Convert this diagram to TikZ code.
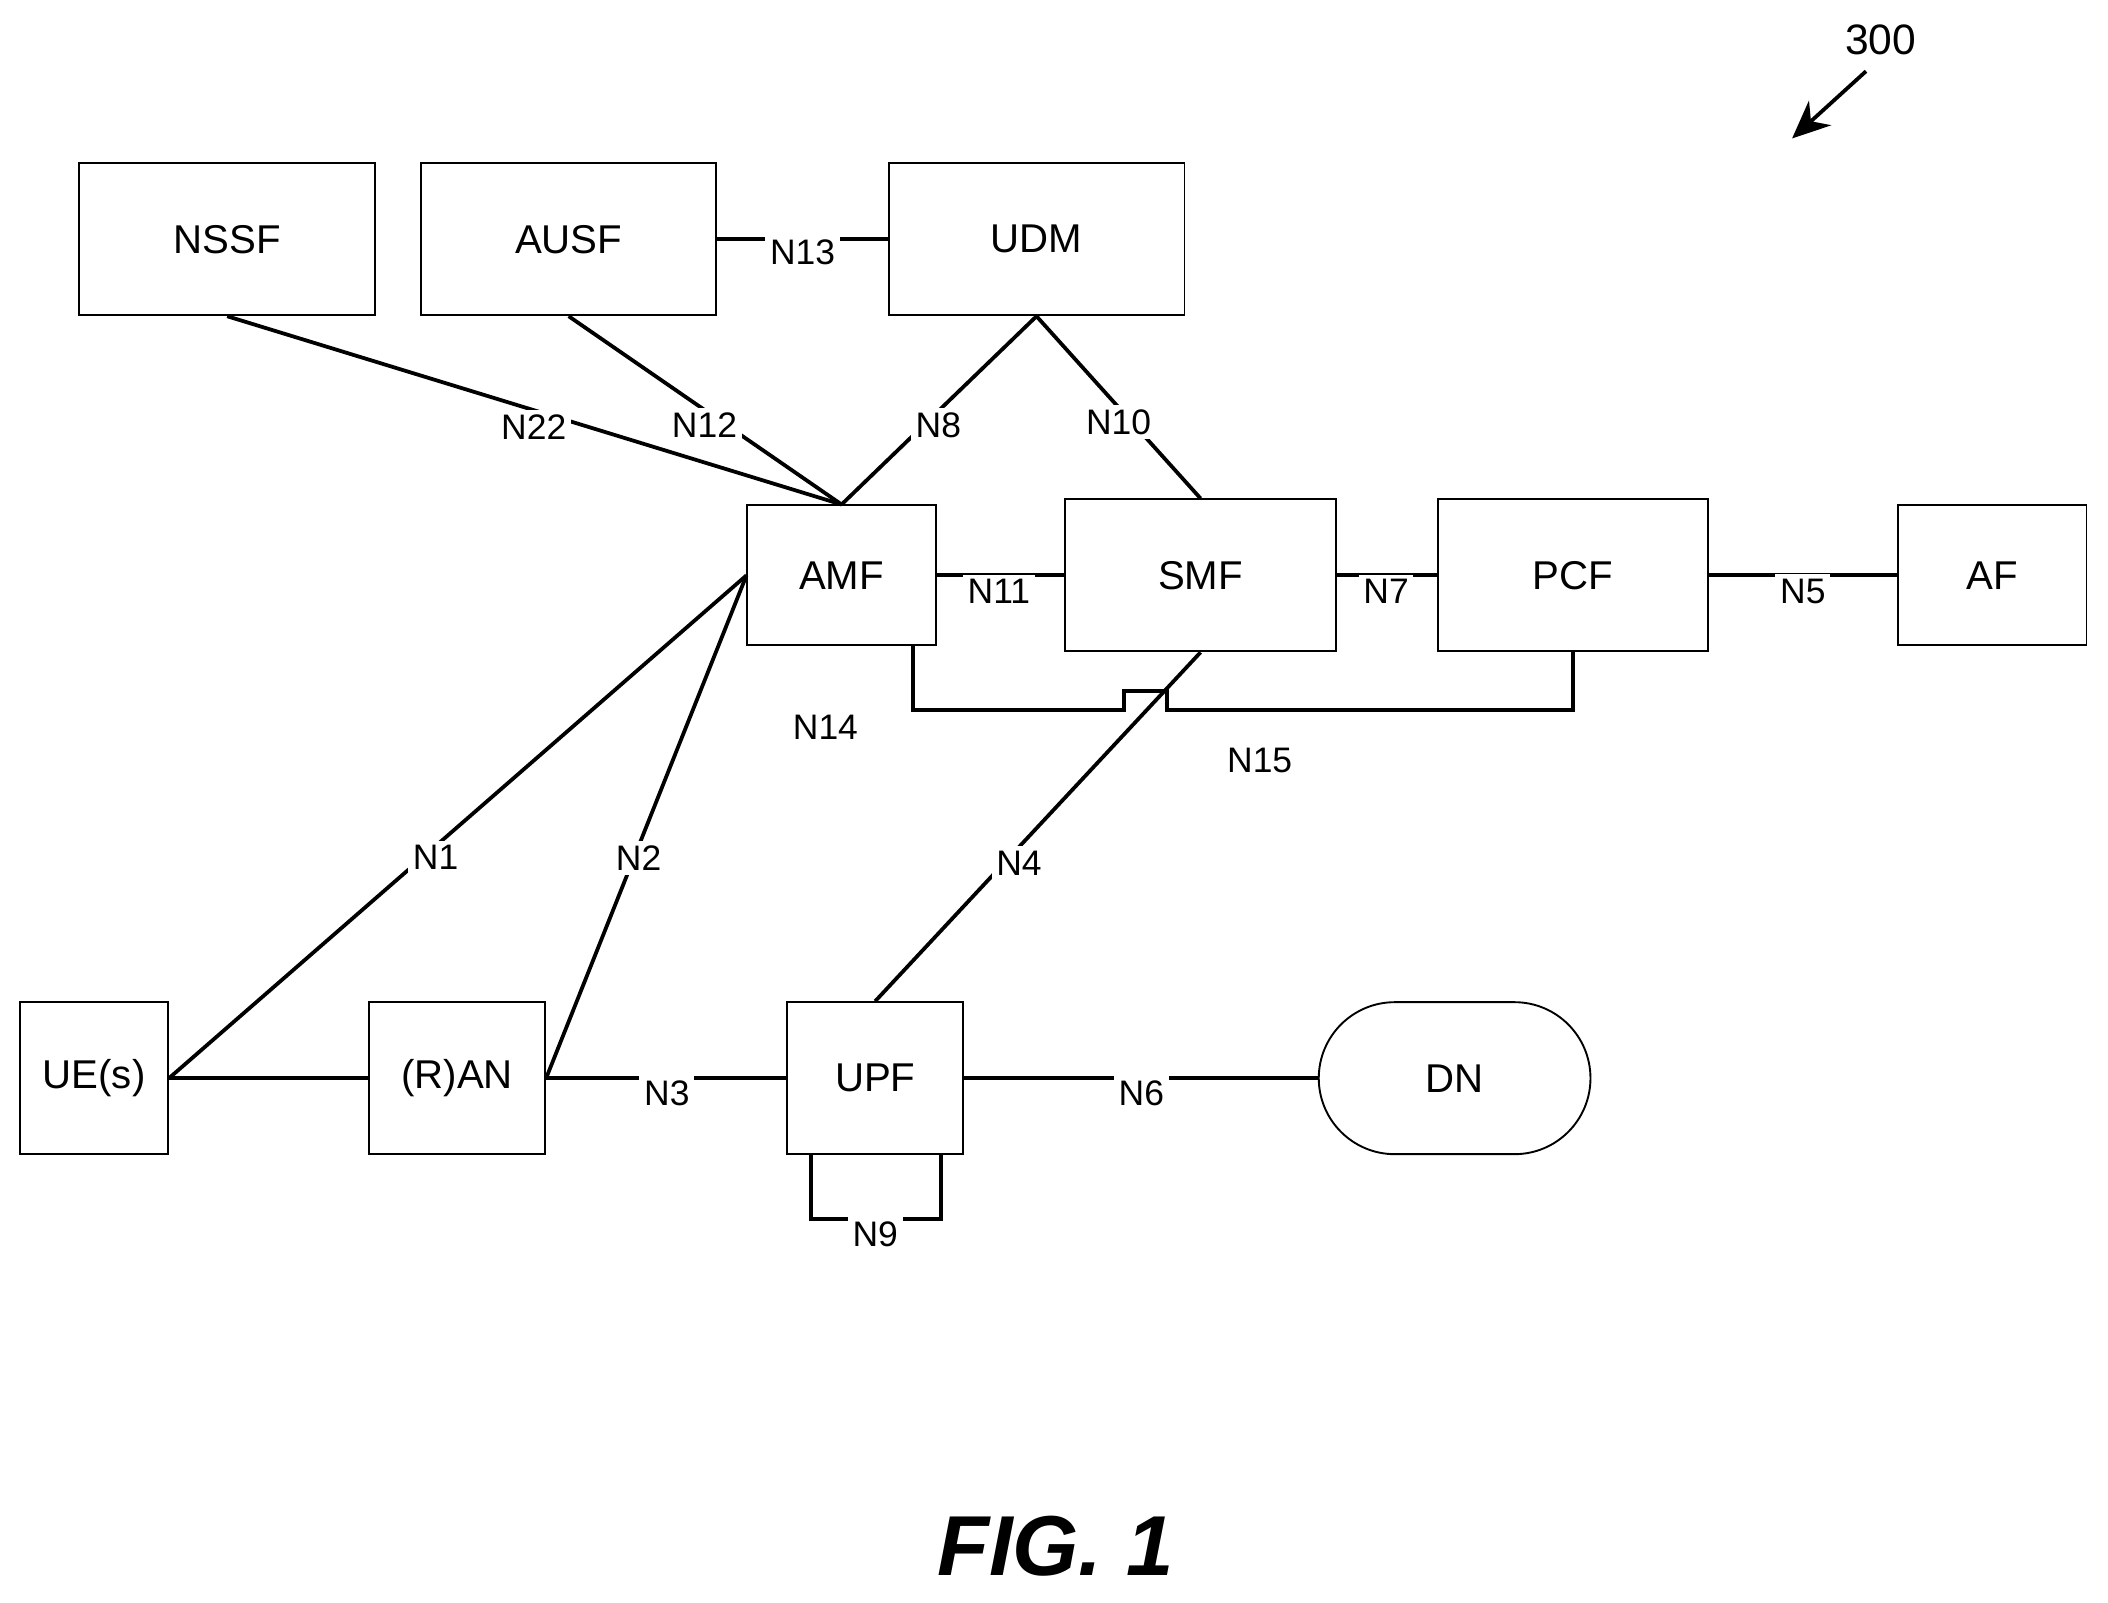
\documentclass[tikz,border=0pt]{standalone}
\usepackage{fontspec}
\setmainfont{Liberation Sans}
\usetikzlibrary{positioning, calc, arrows.meta}
\tikzstyle{block} = [draw,rectangle,line width=0.4pt,fill=white,font=\fontsize{8.5}{10}\selectfont]
\tikzstyle{connector} = [line width=0.8pt]
\tikzstyle{lbl} = [fill=white,inner sep=1pt,font=\fontsize{7.5}{9}\selectfont]

\begin{document}
\begin{tikzpicture}[x=0.01cm,y=-0.01cm]
\useasboundingbox (0,0) rectangle (1568,1192);

  \node[block, minimum width=2.2cm, minimum height=1.13cm] (nssf) at (169,178) {NSSF};
  \node[block, minimum width=2.19cm, minimum height=1.13cm] (ausf) at (423,178) {AUSF};
  \node[block, minimum width=2.2cm, minimum height=1.13cm] (udm) at (771,178) {UDM};
  \node[block, minimum width=1.4cm, minimum height=1.04cm] (amf) at (626,428) {AMF};
  \node[block, minimum width=2.02cm, minimum height=1.13cm] (smf) at (893,428) {SMF};
  \node[block, minimum width=2.01cm, minimum height=1.13cm] (pcf) at (1170,428) {PCF};
  \node[block, minimum width=1.4cm, minimum height=1.04cm] (af) at (1482,428) {AF};
  \node[block, minimum width=1.1cm, minimum height=1.13cm] (ue) at (70,802) {UE(s)};
  \node[block, minimum width=1.31cm, minimum height=1.13cm] (ran) at (340,802) {(R)AN};
  \node[block, minimum width=1.31cm, minimum height=1.13cm] (upf) at (651,802) {UPF};
  \node[block, minimum width=2.02cm, minimum height=1.13cm, rounded corners=0.565cm] (dn) at (1082,802) {DN};

% now link the nodes

\draw [connector] (nssf.south) -- (amf.north);
\draw [connector] (ausf.south) -- (amf.north);
\draw [connector] (udm.south) -- (amf.north);
\draw [connector] (udm.south) -- (smf.north);
\draw [connector] (ausf.east) -- (udm.west);
\draw [connector] (amf.east) -- (smf.west);
\draw [connector] (smf.east) -- (pcf.west);
\draw [connector] (pcf.east) -- (af.west);
\draw [connector] (ue.east) -- (amf.west);
\draw [connector] (ran.east) -- (amf.west);
\draw [connector] (ue.east) -- (ran.west);
\draw [connector] (ran.east) -- (upf.west);
\draw [connector] (upf.east) -- (dn.west);
\draw [connector] (upf.north) -- (smf.south);
\draw [connector] (amf.south -| 679,0) |- (836,528) -- (836,514) -- (868,514) -- (868,528) -| (pcf.south);
\draw [connector] (upf.south -| 603,0) |- (700,907) -- (upf.south -| 700,0);

  \node[lbl] (n22) at (397,318) {N22};
  \node[lbl] (n12) at (524,316) {N12};
  \node[lbl] (n8) at (698,316) {N8};
  \node[lbl] (n10) at (832,314) {N10};
  \node[lbl] (n13) at (597,188) {N13};
  \node[lbl] (n11) at (743,440) {N11};
  \node[lbl] (n7) at (1031,440) {N7};
  \node[lbl] (n5) at (1341,440) {N5};
  \node[lbl] (n1) at (324,638) {N1};
  \node[lbl] (n2) at (475,638) {N2};
  \node[lbl] (n3) at (496,813) {N3};
  \node[lbl] (n6) at (849,813) {N6};
  \node[lbl] (n4) at (758,642) {N4};
  \node[lbl] (n14) at (614,541) {N14};
  \node[lbl] (n15) at (937,566) {N15};
  \node[lbl] (n9) at (651,918) {N9};

  \node[font=\fontsize{9}{11}\selectfont] (ref) at (1399,30) {300};
  \coordinate (reftip) at (1333,103);
\draw [connector, -{Stealth[length=8pt,width=7pt]}] (1388,53) -- (reftip);

  \node[font=\fontsize{18}{22}\selectfont\bfseries\itshape] (fig) at (785,1150) {FIG. 1};
\end{tikzpicture}
\end{document}
